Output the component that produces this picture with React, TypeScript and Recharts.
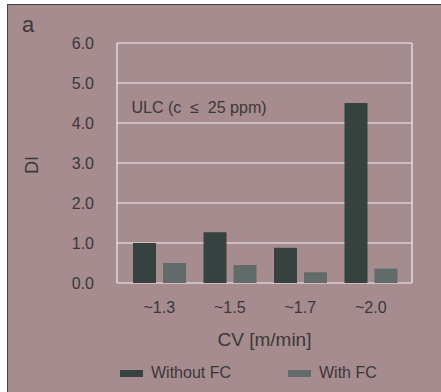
import {
  Bar,
  BarChart,
  CartesianGrid,
  Label,
  Legend,
  ReferenceLine,
  XAxis,
  YAxis,
} from "recharts";

const CATEGORIES = ["~1.3", "~1.5", "~1.7", "~2.0"];
const WITHOUT_FC = [1.0, 1.27, 0.88, 4.5];
const WITH_FC = [0.5, 0.45, 0.27, 0.36];
const Y_TICKS = [0, 1, 2, 3, 4, 5, 6];
const SERIES_NAMES = ["Without FC", "With FC"];
const NOTE_LEVEL = 4.4;

const BG = "#a68b8f";
const DARK = "#35423f";
const LIGHT = "#616c6a";
const GRID = "#f2efef";
const TEXT = "#3b3838";
const FONT = '"Liberation Sans", Arial, Helvetica, sans-serif';

const data = CATEGORIES.map((cv, i) => ({
  cv,
  without: WITHOUT_FC[i],
  withFc: WITH_FC[i],
}));

// legend entries in series order, with wide flat swatches
function renderLegend(props: any) {
  const items = [...(props.payload || [])].sort(
    (a: any, b: any) => SERIES_NAMES.indexOf(a.value) - SERIES_NAMES.indexOf(b.value)
  );
  return (
    <div style={{ display: "flex", alignItems: "center", fontSize: 16, lineHeight: "18px", color: TEXT }}>
      {items.map((p: any, i: number) => (
        <div key={p.value} style={{ display: "flex", alignItems: "center", marginRight: i === 0 ? 57 : 0 }}>
          <span style={{ display: "inline-block", width: 23, height: 7, background: p.color, marginRight: 8 }} />
          <span>{p.value}</span>
        </div>
      ))}
    </div>
  );
}

export default function App() {
  return (
    <div
      style={{
        position: "absolute",
        left: 7,
        top: 4,
        width: 434,
        height: 388,
        background: BG,
        borderLeft: "1px solid #3e4845",
        borderTop: "1px solid #3e4845",
        fontFamily: FONT,
      }}
    >
      <span
        style={{
          position: "absolute",
          left: 14,
          top: 9,
          fontSize: 22,
          lineHeight: "22px",
          color: TEXT,
        }}
      >
        a
      </span>
      <BarChart
        width={433}
        height={387}
        data={data}
        margin={{ top: 38, right: 29, bottom: 0, left: 0 }}
        barGap={7}
        barSize={23}
        style={{ fontFamily: FONT }}
      >
        <CartesianGrid
          stroke={GRID}
          strokeWidth={1.2}
          verticalCoordinatesGenerator={({ offset }: any) => [offset.left, offset.left + offset.width]}
        />
        <XAxis
          dataKey="cv"
          height={109}
          padding={{ left: 7, right: 6 }}
          axisLine={false}
          tickLine={false}
          tickSize={0}
          tickMargin={19}
          tick={{ fill: TEXT, fontSize: 16 }}
        >
          <Label
            content={({ viewBox }: any) => (
              <text
                x={viewBox.x + viewBox.width / 2}
                y={viewBox.y + 62.7}
                textAnchor="middle"
                fill={TEXT}
                fontSize={19}
              >
                CV [m/min]
              </text>
            )}
          />
        </XAxis>
        <YAxis
          width={109}
          domain={[0, 6]}
          ticks={Y_TICKS}
          axisLine={false}
          tickLine={false}
          tickSize={0}
          tickMargin={23}
          tickFormatter={(v: number) => v.toFixed(1)}
          tick={{ fill: TEXT, fontSize: 16 }}
        >
          <Label
            content={({ viewBox }: any) => {
              const cx = viewBox.x + 24;
              const cy = viewBox.y + viewBox.height / 2 + 2;
              return (
                <text
                  x={cx}
                  y={cy}
                  transform={`rotate(-90, ${cx}, ${cy})`}
                  textAnchor="middle"
                  dominantBaseline="central"
                  fill={TEXT}
                  fontSize={18}
                >
                  DI
                </text>
              );
            }}
          />
        </YAxis>
        <ReferenceLine
          y={NOTE_LEVEL}
          strokeOpacity={0}
          label={{
            value: "ULC (c\u00a0\u00a0\u2264\u00a0\u00a025 ppm)",
            position: "insideLeft",
            offset: 14.5,
            fill: TEXT,
            fontSize: 16,
          }}
        />
        <Legend
          layout="horizontal"
          align="center"
          verticalAlign="middle"
          wrapperStyle={{ left: 112, top: 359, width: "auto" }}
          content={renderLegend}
        />
        <Bar dataKey="without" name={SERIES_NAMES[0]} fill={DARK} isAnimationActive={false} />
        <Bar dataKey="withFc" name={SERIES_NAMES[1]} fill={LIGHT} isAnimationActive={false} />
      </BarChart>
    </div>
  );
}
